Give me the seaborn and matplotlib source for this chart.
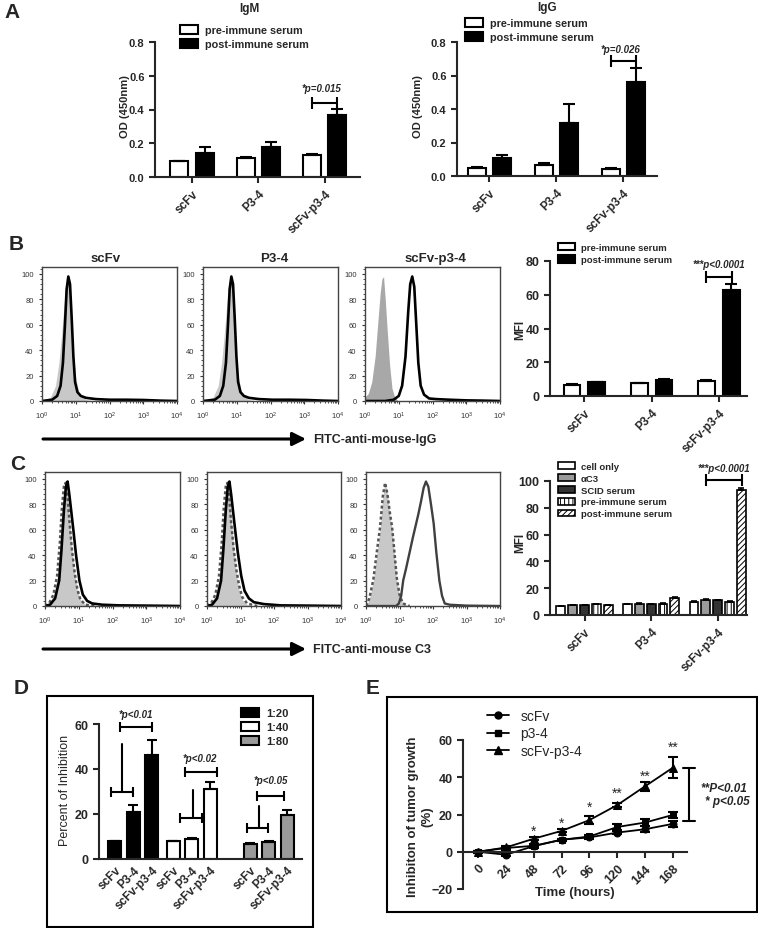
import matplotlib
matplotlib.use("Agg")
import numpy as np
import pandas as pd
import matplotlib.pyplot as plt
import seaborn as sns
from matplotlib.patches import Patch, Rectangle
from matplotlib.lines import Line2D
from matplotlib.ticker import MultipleLocator, LogLocator, NullFormatter

# ---------------- values ----------------
antigens = ["scFv", "P3-4", "scFv-p3-4"]
sera = ["pre-immune serum", "post-immune serum"]

# A - ELISA, OD 450nm
igm_pre = [0.092, 0.112, 0.130]
igm_pre_err = [0.002, 0.004, 0.008]
igm_post = [0.140, 0.176, 0.368]
igm_post_err = [0.036, 0.030, 0.036]
igg_pre = [0.050, 0.066, 0.044]
igg_pre_err = [0.002, 0.013, 0.003]
igg_post = [0.107, 0.314, 0.561]
igg_post_err = [0.020, 0.116, 0.084]

# B - MFI of bound IgG
mfi_igg_pre = [6.5, 7.5, 9.0]
mfi_igg_pre_err = [0.4, 0.4, 0.4]
mfi_igg_post = [8.2, 9.5, 63.0]
mfi_igg_post_err = [0.3, 0.3, 3.5]

# C - MFI of C3 deposition
c3_conditions = ["cell only", "αC3", "SCID serum", "pre-immune serum", "post-immune serum"]
c3_scfv = [6.5, 7.5, 7.5, 8.0, 7.5]
c3_p34 = [8.0, 8.5, 8.0, 8.5, 13.0]
c3_scfv_p34 = [10.0, 11.5, 11.0, 10.0, 93.0]
c3_scfv_err = [0.3, 0.3, 0.3, 0.3, 0.3]
c3_p34_err = [0.3, 0.4, 0.3, 0.4, 0.8]
c3_scfv_p34_err = [0.4, 0.5, 0.5, 0.4, 1.5]

# flow histograms (log10 fluorescence, % of max)
b_scfv_iso_x = [0.0, 0.25, 0.40, 0.50, 0.58, 0.65, 0.70, 0.75, 0.80, 0.86, 0.92, 1.00, 1.10, 1.30, 1.60]
b_scfv_iso_y = [0, 3, 12, 30, 52, 75, 90, 97, 92, 70, 42, 18, 6, 1, 0]
b_scfv_imm_x = [0.0, 0.30, 0.45, 0.55, 0.62, 0.68, 0.73, 0.78, 0.83, 0.88, 0.93, 0.98, 1.05, 1.15, 1.30, 1.60, 2.00, 2.50, 3.00, 3.50, 4.00]
b_scfv_imm_y = [0, 1, 4, 12, 30, 60, 88, 98, 92, 65, 35, 15, 7, 4, 2.5, 1.5, 1, 1, 0.8, 0.3, 0]
b_p34_iso_x = [0.0, 0.30, 0.45, 0.55, 0.63, 0.70, 0.75, 0.80, 0.85, 0.91, 0.97, 1.05, 1.15, 1.35, 1.65]
b_p34_iso_y = [0, 3, 12, 30, 52, 75, 90, 97, 92, 70, 42, 18, 6, 1, 0]
b_p34_imm_x = [0.0, 0.35, 0.50, 0.60, 0.68, 0.74, 0.79, 0.84, 0.89, 0.94, 0.99, 1.04, 1.11, 1.21, 1.36, 1.66, 2.06, 2.56, 3.06, 3.56, 4.00]
b_p34_imm_y = [0, 1, 4, 12, 30, 60, 88, 98, 92, 65, 35, 15, 7, 4, 2.5, 1.5, 1, 1, 0.8, 0.3, 0]
b_sp_iso_x = [0.0, 0.10, 0.20, 0.30, 0.38, 0.45, 0.50, 0.55, 0.60, 0.66, 0.73, 0.80, 0.88, 0.98]
b_sp_iso_y = [3, 6, 15, 35, 62, 85, 96, 98, 80, 55, 28, 10, 3, 0]
b_sp_imm_x = [0.0, 0.60, 0.85, 1.00, 1.10, 1.20, 1.28, 1.34, 1.40, 1.46, 1.52, 1.58, 1.65, 1.75, 1.90, 2.10, 2.50, 3.00, 3.50, 4.00]
b_sp_imm_y = [0, 0, 1, 4, 12, 35, 70, 92, 98, 90, 60, 30, 12, 5, 2, 1.5, 1, 0.5, 0.3, 0]

c_iso_x = [0.0, 0.12, 0.25, 0.36, 0.44, 0.50, 0.56, 0.61, 0.66, 0.72, 0.80, 0.88, 0.96, 1.05, 1.20, 1.50]
c_scfv_iso_y = [0, 2, 8, 22, 48, 75, 93, 98, 90, 70, 45, 25, 12, 5, 1, 0]
c_scfv_pre_y = [0, 2, 9, 24, 50, 77, 94, 97, 88, 68, 44, 26, 13, 5, 1, 0]
c_imm_x = [0.0, 0.15, 0.30, 0.42, 0.49, 0.56, 0.62, 0.67, 0.72, 0.78, 0.84, 0.92, 1.02, 1.12, 1.25, 1.40, 1.70, 2.20, 3.00, 4.00]
c_scfv_imm_y = [0, 1, 6, 20, 45, 75, 94, 98, 88, 74, 60, 40, 20, 9, 4, 2, 1, 0.5, 0.3, 0]
c_p34_iso_y = [0, 2, 8, 22, 48, 75, 93, 98, 90, 70, 45, 25, 12, 5, 1, 0]
c_p34_pre_y = [0, 2, 9, 24, 50, 77, 94, 97, 86, 66, 44, 28, 16, 7, 2, 0]
c_p34_imm_y = [0, 1, 6, 20, 45, 75, 94, 98, 88, 74, 60, 42, 24, 12, 6, 3, 1.5, 0.5, 0.3, 0]
c_sp_iso_x = [0.0, 0.10, 0.22, 0.32, 0.42, 0.50, 0.57, 0.64, 0.72, 0.78, 0.85, 0.92, 1.00, 1.10, 1.30]
c_sp_iso_y = [0, 5, 20, 40, 60, 85, 98, 88, 70, 60, 40, 20, 8, 2, 0]
c_sp_pre_y = [0, 6, 21, 42, 62, 86, 97, 88, 72, 62, 42, 22, 9, 2, 0]
c_sp_imm_x = [0.0, 0.90, 0.98, 1.05, 1.11, 1.20, 1.30, 1.40, 1.48, 1.56, 1.64, 1.72, 1.79, 1.86, 1.94, 2.02, 2.10, 2.19, 2.27, 2.35, 2.50, 3.00, 4.00]
c_sp_imm_y = [0, 0, 2, 8, 20, 30, 42, 54, 63, 72, 82, 93, 98, 94, 80, 65, 42, 20, 8, 2, 1, 0.3, 0]

# D - percent of inhibition
dilutions = ["1:20", "1:40", "1:80"]
inhib_1_20 = [7.8, 20.7, 46.4]
inhib_1_20_err = [0.3, 3.4, 6.3]
inhib_1_40 = [7.8, 8.9, 31.1]
inhib_1_40_err = [0.3, 0.6, 3.3]
inhib_1_80 = [6.6, 7.4, 19.6]
inhib_1_80_err = [0.3, 0.4, 2.3]

# E - tumor growth inhibition
time_h = [0, 24, 48, 72, 96, 120, 144, 168]
tg_scfv = [0, -1.6, 3.0, 6.5, 7.7, 10.3, 12.1, 15.0]
tg_scfv_err = [0.5, 0.8, 0.8, 0.6, 0.8, 1.0, 1.5, 1.5]
tg_p34 = [0, 2.0, 3.2, 6.4, 8.2, 13.3, 15.7, 19.8]
tg_p34_err = [0.5, 0.8, 0.8, 0.6, 0.8, 1.5, 2.0, 1.5]
tg_scfv_p34 = [0, 2.3, 7.0, 11.2, 17.0, 25.1, 35.2, 45.2]
tg_scfv_p34_err = [0.5, 0.8, 0.8, 0.8, 2.3, 1.0, 2.4, 5.5]
stars = ["*", "*", "*", "**", "**", "**"]
star_y = [11.0, 15.5, 24.0, 31.5, 41.0, 56.5]

# ---------------- figure ----------------
sns.set_style("ticks")
plt.rcParams["font.family"] = ["Liberation Sans", "DejaVu Sans"]
plt.rcParams["font.weight"] = "bold"
plt.rcParams["hatch.linewidth"] = 0.7

W, H = 758, 929
fig = plt.figure(figsize=(W / 100, H / 100), dpi=100)


def box(l, t, r, b):
    return [l / W, 1 - b / H, (r - l) / W, (b - t) / H]


def prism_axes(ax, ylim, yticks, fs=8):
    sns.despine(ax=ax)
    ax.set_ylim(*ylim)
    ax.set_yticks(yticks)
    for s in ["left", "bottom"]:
        ax.spines[s].set_linewidth(1.5)
    ax.tick_params(width=1.5, length=4, labelsize=fs)
    ax.set_xlabel("")
    ax.set_ylabel("")


def bracket(ax, x1, x2, y, cap=4):
    eb = ax.errorbar([(x1 + x2) / 2], [y], xerr=[(x2 - x1) / 2], fmt="none",
                     ecolor="black", elinewidth=1.5, capsize=cap, capthick=1.5)
    for art in list(eb.lines[1]) + list(eb.lines[2]):
        art.set_clip_on(False)


def serum_bars(ax, rows, errs, levels, colors, width, gap, lw=1.5, cap=4):
    recs = []
    for i, a in enumerate(antigens):
        for j, lev in enumerate(levels):
            recs.append((a, lev, rows[j][i]))
    df = pd.DataFrame(recs, columns=["antigen", "serum", "value"])
    sns.barplot(data=df, x="antigen", y="value", hue="serum", order=antigens,
                hue_order=levels, palette=dict(zip(levels, colors)), saturation=1,
                edgecolor="black", linewidth=lw, width=width, gap=gap,
                errorbar=None, legend=False, ax=ax)
    bars = sorted(ax.patches, key=lambda p: p.get_x())
    err_flat = [errs[j][i] for i in range(len(antigens)) for j in range(len(levels))]
    xs = [b.get_x() + b.get_width() / 2 for b in bars]
    hs = [b.get_height() for b in bars]
    ax.errorbar(xs, hs, yerr=[np.zeros(len(hs)), err_flat], fmt="none", ecolor="black",
                elinewidth=lw, capsize=cap, capthick=lw)
    ax.set_xticks(range(3))
    ax.set_xticklabels(antigens, rotation=45, ha="right", rotation_mode="anchor")
    return bars


def flow_axes(ax, fills, lines):
    ax.set_xscale("log")
    for lx, ly, col in fills:
        ax.fill_between(10 ** np.array(lx), ly, color=col, lw=0)
    for lx, ly, col, ls, lw in lines:
        sns.lineplot(x=10 ** np.array(lx), y=ly, color=col, lw=lw, linestyle=ls, ax=ax)
    ax.set_xlim(1, 1e4)
    ax.set_ylim(0, 105.5)
    ax.set_yticks([0, 20, 40, 60, 80, 100])
    ax.yaxis.set_minor_locator(MultipleLocator(4))
    ax.set_xticks([1, 10, 100, 1000, 10000])
    ax.xaxis.set_minor_locator(LogLocator(base=10, subs=np.arange(2, 10)))
    ax.xaxis.set_minor_formatter(NullFormatter())
    for s in ax.spines.values():
        s.set_linewidth(1.0)
        s.set_color("#444444")
    ax.tick_params(which="major", length=2.5, width=0.8, labelsize=5.5, colors="#333333")
    ax.tick_params(which="minor", length=1.5, width=0.6, colors="#333333")
    for lab in ax.get_xticklabels() + ax.get_yticklabels():
        lab.set_fontweight("normal")
    ax.set_xlabel("")
    ax.set_ylabel("")


legend_font = {"weight": "bold", "size": 7.8}
small_legend = {"weight": "bold", "size": 6.8}

# ---- A: IgM ----
ax = fig.add_axes(box(155, 43, 360, 178))
serum_bars(ax, [igm_pre, igm_post], [igm_pre_err, igm_post_err], sera, ["white", "black"], 0.76, 0.29)
prism_axes(ax, (0, 0.8), [0, 0.2, 0.4, 0.6, 0.8])
ax.set_xlim(-0.556, 2.53)
ax.tick_params(axis="x", labelsize=8.5)
bracket(ax, 1.81, 2.19, 0.44)
ax.text(1.95, 0.53, "*p=0.015", ha="center", va="center", style="italic", fontsize=7)

# ---- A: IgG ----
ax = fig.add_axes(box(457, 43, 657, 177))
serum_bars(ax, [igg_pre, igg_post], [igg_pre_err, igg_post_err], sera, ["white", "black"], 0.76, 0.29)
prism_axes(ax, (0, 0.8), [0, 0.2, 0.4, 0.6, 0.8])
ax.set_xlim(-0.485, 2.5)
ax.tick_params(axis="x", labelsize=8.5)
bracket(ax, 1.81, 2.19, 0.685)
ax.text(1.95, 0.76, "*p=0.026", ha="center", va="center", style="italic", fontsize=7)

serum_handles = [Patch(facecolor="white", edgecolor="black", lw=1.5),
                 Patch(facecolor="black", edgecolor="black", lw=1.5)]
for lx, ly in [(180, 26), (465, 19)]:
    fig.legend(serum_handles, sera, loc="upper left", bbox_to_anchor=(lx / W, 1 - ly / H),
               frameon=False, borderpad=0, borderaxespad=0, handlelength=1.7,
               handleheight=0.9, handletextpad=0.6, labelspacing=0.35, prop=legend_font)

# ---- B: flow histograms ----
light, dark = "#c8c8c8", "#a8a8a8"
flow_axes(fig.add_axes(box(42, 268, 177, 402)),
          [(b_scfv_iso_x, b_scfv_iso_y, light)],
          [(b_scfv_imm_x, b_scfv_imm_y, "black", "-", 1.9)])
flow_axes(fig.add_axes(box(203, 268, 338, 402)),
          [(b_p34_iso_x, b_p34_iso_y, light)],
          [(b_p34_imm_x, b_p34_imm_y, "black", "-", 1.9)])
flow_axes(fig.add_axes(box(365, 268, 500, 402)),
          [(b_sp_iso_x, b_sp_iso_y, dark)],
          [(b_sp_imm_x, b_sp_imm_y, "black", "-", 1.9)])

# ---- B: MFI bars ----
ax = fig.add_axes(box(550, 262, 747, 397))
serum_bars(ax, [mfi_igg_pre, mfi_igg_post], [mfi_igg_pre_err, mfi_igg_post_err], sera,
           ["white", "black"], 0.74, 0.32)
prism_axes(ax, (0, 80), [0, 20, 40, 60, 80], fs=9)
ax.set_xlim(-0.513, 2.42)
ax.tick_params(axis="x", labelsize=8.5)
bracket(ax, 1.81, 2.19, 70.5)
ax.text(2.0, 78.5, "***p<0.0001", ha="center", va="center", style="italic", fontsize=7)
fig.legend(serum_handles, sera, loc="upper left", bbox_to_anchor=(558 / W, 1 - 244 / H),
           frameon=False, borderpad=0, borderaxespad=0, handlelength=1.8,
           handleheight=0.8, handletextpad=0.6, labelspacing=0.35, prop=small_legend)

# ---- C: flow histograms ----
dots = (0, (1.2, 1.0))
flow_axes(fig.add_axes(box(45, 473, 180, 607)),
          [(c_iso_x, c_scfv_iso_y, light)],
          [(c_iso_x, c_scfv_pre_y, "#555555", dots, 1.8),
           (c_imm_x, c_scfv_imm_y, "black", "-", 1.9)])
flow_axes(fig.add_axes(box(207, 473, 341, 607)),
          [(c_iso_x, c_p34_iso_y, light)],
          [(c_iso_x, c_p34_pre_y, "#555555", dots, 1.8),
           (c_imm_x, c_p34_imm_y, "black", "-", 1.9)])
flow_axes(fig.add_axes(box(366, 473, 500, 607)),
          [(c_sp_iso_x, c_sp_iso_y, light)],
          [(c_sp_iso_x, c_sp_pre_y, "#555555", dots, 1.8),
           (c_sp_imm_x, c_sp_imm_y, "#404040", "-", 1.7)])

# ---- C: MFI bars ----
c3_colors = ["white", "#9a9a9a", "#333333", "white", "white"]
c3_hatches = ["", "", "", "||||", "//////"]
ax = fig.add_axes(box(550, 482, 747, 616))
bars = serum_bars(ax, [[c3_scfv[k], c3_p34[k], c3_scfv_p34[k]] for k in range(5)],
                  [[c3_scfv_err[k], c3_p34_err[k], c3_scfv_p34_err[k]] for k in range(5)],
                  c3_conditions, c3_colors, 0.89, 0.25, lw=1.2, cap=2)
for n, b in enumerate(bars):
    b.set_hatch(c3_hatches[n % 5])
prism_axes(ax, (0, 100), [0, 20, 40, 60, 80, 100], fs=9)
ax.set_xlim(-0.52, 2.44)
ax.tick_params(axis="x", labelsize=8.5)
bracket(ax, 1.82, 2.36, 100.5)
ax.text(2.1, 110, "***p<0.0001", ha="center", va="center", style="italic", fontsize=7)
c3_handles = [Patch(facecolor=c, edgecolor="black", lw=1.2, hatch=h) for c, h in zip(c3_colors, c3_hatches)]
fig.legend(c3_handles, c3_conditions, loc="upper left", bbox_to_anchor=(558 / W, 1 - 463 / H),
           frameon=False, borderpad=0, borderaxespad=0, handlelength=1.8,
           handleheight=0.75, handletextpad=0.6, labelspacing=0.3, prop=small_legend)

# ---- D: inhibition ----
d_pos = [0, 1, 2, 3.15, 4.15, 5.15, 7.3, 8.3, 9.3]
d_vals = inhib_1_20 + inhib_1_40 + inhib_1_80
d_errs = inhib_1_20_err + inhib_1_40_err + inhib_1_80_err
d_colors = ["black"] * 3 + ["white"] * 3 + ["#9a9a9a"] * 3
ax = fig.add_axes(box(99, 725, 302, 860))
ax.bar(d_pos, d_vals, width=0.7, color=d_colors, edgecolor="black", linewidth=1.5)
ax.errorbar(d_pos, d_vals, yerr=[np.zeros(9), d_errs], fmt="none", ecolor="black",
            elinewidth=1.5, capsize=3.5, capthick=1.5)
prism_axes(ax, (0, 60), [0, 20, 40, 60], fs=9)
ax.set_xlim(-0.86, 10.1)
ax.set_xticks(d_pos)
ax.set_xticklabels(antigens * 3, rotation=45, ha="right", rotation_mode="anchor", fontsize=8.5)
ax.tick_params(axis="x", length=0)
for lo, hi, ylow, xv, vtop, ulo, uhi, yup, ytxt, xtxt, txt in [
        (-0.2, 0.97, 29.8, 0.38, 51, 0.27, 2.0, 58.7, 64.5, 1.1, "*p<0.01"),
        (3.5, 4.7, 18.2, 4.2, 30.7, 3.78, 5.5, 38.7, 45.0, 4.6, "*p<0.02"),
        (7.14, 8.27, 13.8, 7.78, 23.5, 7.68, 9.14, 28.0, 35.0, 8.4, "*p<0.05")]:
    bracket(ax, lo, hi, ylow, cap=3.5)
    ax.plot([xv, xv], [ylow, vtop], color="black", lw=1.5, clip_on=False)
    bracket(ax, ulo, uhi, yup, cap=3.5)
    ax.text(xtxt, ytxt, txt, ha="center", va="center", style="italic", fontsize=7)
d_handles = [Patch(facecolor=c, edgecolor="black", lw=1.5) for c in ["black", "white", "#9a9a9a"]]
fig.legend(d_handles, dilutions, loc="upper left", bbox_to_anchor=(241 / W, 1 - 709 / H),
           frameon=False, borderpad=0, borderaxespad=0, handlelength=1.6,
           handleheight=0.8, handletextpad=0.7, labelspacing=0.35, prop={"weight": "bold", "size": 8})

# ---- E: tumor growth ----
ax = fig.add_axes(box(463, 741, 687, 890))
series_e = [("scFv", tg_scfv, tg_scfv_err, "o", 5),
            ("p3-4", tg_p34, tg_p34_err, "s", 5),
            ("scFv-p3-4", tg_scfv_p34, tg_scfv_p34_err, "^", 6)]
for name, vals, errs, mk, ms in series_e:
    sns.lineplot(x=time_h, y=vals, marker=mk, markersize=ms, color="black", lw=1.3,
                 markeredgecolor="black", ax=ax)
    ax.errorbar(time_h, vals, yerr=errs, fmt="none", ecolor="black", elinewidth=1.5,
                capsize=3.5, capthick=1.5)
prism_axes(ax, (-20, 60), [-20, 0, 20, 40, 60], fs=9)
ax.set_xlim(-12.9, 180)
ax.spines["bottom"].set_position(("data", 0))
ax.set_xticks(time_h)
ax.set_xticklabels([str(t) for t in time_h], rotation=45, ha="right",
                   rotation_mode="anchor", fontsize=9)
for t, s, sy in zip(time_h[2:], stars, star_y):
    ax.text(t, sy, s, ha="center", va="center", fontsize=10, fontweight="normal")
ax.plot([176.8, 186.8], [45.0, 45.0], color="black", lw=1.5, clip_on=False)
ax.plot([176.8, 186.8], [16.6, 16.6], color="black", lw=1.5, clip_on=False)
ax.plot([181.8, 181.8], [16.6, 45.0], color="black", lw=1.5, clip_on=False)
ax.text(192.0, 34.0, "**P<0.01", ha="left", va="center", style="italic", fontsize=8.5)
ax.text(195.5, 27.0, "* p<0.05", ha="left", va="center", style="italic", fontsize=8.5)
e_handles = [Line2D([], [], color="black", lw=1.3, marker=mk, markersize=ms)
             for _, _, _, mk, ms in series_e]
fig.legend(e_handles, [s[0] for s in series_e], loc="upper left",
           bbox_to_anchor=(487 / W, 1 - 710 / H), frameon=False, borderpad=0,
           borderaxespad=0, handlelength=1.6, handletextpad=0.8, labelspacing=0.25,
           prop={"weight": "normal", "size": 10})

# ---------------- overlay: labels, arrows, frames ----------------
ov = fig.add_axes([0, 0, 1, 1])
ov.set_xlim(0, W)
ov.set_ylim(H, 0)
ov.axis("off")

for letter, x, y in [("A", 12, 12), ("B", 16, 244), ("C", 18, 465), ("D", 21, 688), ("E", 373, 688)]:
    ov.text(x, y, letter, ha="center", va="center", fontsize=15)

ov.text(249, 9, "IgM", ha="center", va="center", fontsize=8.5)
ov.text(547, 8, "IgG", ha="center", va="center", fontsize=8.5)
for x, t in [(106, "scFv"), (274, "P3-4"), (435, "scFv-p3-4")]:
    ov.text(x, 259, t, ha="center", va="center", fontsize=9.5)

for y, t in [(440, "FITC-anti-mouse-IgG"), (650, "FITC-anti-mouse C3")]:
    ov.annotate("", xy=(306, y), xytext=(43, y),
                arrowprops=dict(arrowstyle="-|>", lw=2.2, color="black",
                                mutation_scale=20, shrinkA=0, shrinkB=0))
    ov.text(313, y, t, ha="left", va="center", fontsize=9)

ov.text(125, 107, "OD (450nm)", rotation=90, ha="center", va="center", fontsize=8)
ov.text(418, 107, "OD (450nm)", rotation=90, ha="center", va="center", fontsize=8)
ov.text(520, 330, "MFI", rotation=90, ha="center", va="center", fontsize=8.5)
ov.text(520, 543, "MFI", rotation=90, ha="center", va="center", fontsize=8.5)
ov.text(65, 790, "Percent of Inhibition", rotation=90, ha="center", va="center",
        fontsize=9, fontweight="normal")
ov.text(420, 817, "Inhibiton of tumor growth\n(%)", rotation=90, ha="center", va="center",
        fontsize=9.5, multialignment="center")
ov.text(575, 893, "Time (hours)", ha="center", va="center", fontsize=9.5)

ov.add_patch(Rectangle((47, 697), 266, 231, fill=False, lw=1.5, edgecolor="black"))
ov.add_patch(Rectangle((387, 698), 370, 215, fill=False, lw=1.5, edgecolor="black"))

fig.savefig("out.png", dpi=100)
